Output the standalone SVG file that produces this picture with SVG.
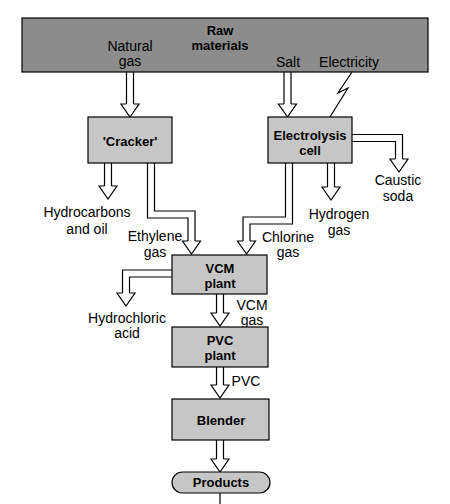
<svg xmlns="http://www.w3.org/2000/svg" xmlns:xlink="http://www.w3.org/1999/xlink" width="450" height="504" viewBox="0 0 450 504">
<style>
  .box { fill: #c6c6c6; stroke: #000; stroke-width: 1.2; }
  .raw { fill: #8c8c8c; stroke: #000; stroke-width: 1.2; }
  .t { font-family: "Liberation Sans", Arial, sans-serif; font-size: 14px; fill: #000; text-anchor: middle; }
  .b { font-family: "Liberation Sans", Arial, sans-serif; font-size: 13px; font-weight: bold; fill: #000; text-anchor: middle; }
  .so { fill: none; stroke: #000; stroke-width: 8.2; stroke-linejoin: miter; }
  .si { fill: none; stroke: #fff; stroke-width: 5.8; stroke-linejoin: miter; }
  .hd { fill: #fff; stroke: #000; stroke-width: 1.2; stroke-linejoin: miter; }
  .ln { fill: none; stroke: #000; stroke-width: 1.2; }
</style>
<defs>
  <path id="head" class="hd" d="M-3.5,0 L-9,0 L0,13 L9,0 L3.5,0"/>
</defs>
<rect width="450" height="504" fill="#fff"/>

<g id="connectors">
  <!-- shafts outer -->
  <path class="so" d="M130,72 V104.5"/>
  <path class="so" d="M287.5,72 V104.5"/>
  <path class="so" d="M108,163 V186.5"/>
  <path class="so" d="M151,163 V214.5 H191.5 V241.5"/>
  <path class="so" d="M289,163 V220.5 H246.5 V241.5"/>
  <path class="so" d="M331,163 V187.5"/>
  <path class="so" d="M352,138 H399 V159.5"/>
  <path class="so" d="M172,273.5 H126 V293.5"/>
  <path class="so" d="M220,294 V313.5"/>
  <path class="so" d="M220,367 V385.5"/>
  <path class="so" d="M220,440 V459.5"/>
  <!-- shafts inner -->
  <path class="si" d="M130,71 V104.5"/>
  <path class="si" d="M287.5,71 V104.5"/>
  <path class="si" d="M108,162 V186.5"/>
  <path class="si" d="M151,162 V214.5 H191.5 V241.5"/>
  <path class="si" d="M289,162 V220.5 H246.5 V241.5"/>
  <path class="si" d="M331,162 V187.5"/>
  <path class="si" d="M351,138 H399 V159.5"/>
  <path class="si" d="M173,273.5 H126 V293.5"/>
  <path class="si" d="M220,293 V313.5"/>
  <path class="si" d="M220,366 V385.5"/>
  <path class="si" d="M220,439 V459.5"/>
  <!-- heads -->
  <use xlink:href="#head" transform="translate(130,104)"/>
  <use xlink:href="#head" transform="translate(287.5,104)"/>
  <use xlink:href="#head" transform="translate(108,186)"/>
  <use xlink:href="#head" transform="translate(191.5,241)"/>
  <use xlink:href="#head" transform="translate(246.5,241)"/>
  <use xlink:href="#head" transform="translate(331,187)"/>
  <use xlink:href="#head" transform="translate(399,159)"/>
  <use xlink:href="#head" transform="translate(126,293)"/>
  <use xlink:href="#head" transform="translate(220,313)"/>
  <use xlink:href="#head" transform="translate(220,385)"/>
  <use xlink:href="#head" transform="translate(220,459)"/>
  <!-- electricity -->
  <polyline class="ln" points="352,72 338,93 348,88 330,117"/>
  <!-- products outlet -->
  <line class="ln" x1="220" y1="493" x2="220" y2="504"/>
  <!-- labels -->
  <text class="t" x="87" y="217">Hydrocarbons</text>
  <text class="t" x="87" y="234">and oil</text>
  <text class="t" x="155" y="241">Ethylene</text>
  <text class="t" x="155" y="257">gas</text>
  <text class="t" x="288" y="242">Chlorine</text>
  <text class="t" x="288" y="257">gas</text>
  <text class="t" x="339" y="219">Hydrogen</text>
  <text class="t" x="339" y="235">gas</text>
  <text class="t" x="398" y="185">Caustic</text>
  <text class="t" x="398" y="201">soda</text>
  <text class="t" x="127" y="323">Hydrochloric</text>
  <text class="t" x="127" y="338">acid</text>
  <text class="t" x="252" y="310">VCM</text>
  <text class="t" x="252" y="325">gas</text>
  <text class="t" x="246" y="386">PVC</text>
</g>

<g id="raw-materials">
  <rect class="raw" x="22" y="18" width="406" height="54"/>
  <text class="b" x="220" y="35">Raw</text>
  <text class="b" x="220" y="50">materials</text>
  <text class="t" x="130" y="51">Natural</text>
  <text class="t" x="130" y="66">gas</text>
  <text class="t" x="288" y="67">Salt</text>
  <text class="t" x="349" y="67">Electricity</text>
</g>

<g id="cracker">
  <rect class="box" x="88" y="117" width="84" height="46"/>
  <text class="b" x="130" y="146">'Cracker'</text>
</g>

<g id="electrolysis-cell">
  <rect class="box" x="268" y="117" width="84" height="46"/>
  <text class="b" x="310" y="139.5">Electrolysis</text>
  <text class="b" x="310" y="155">cell</text>
</g>

<g id="vcm-plant">
  <rect class="box" x="172" y="255" width="95" height="39"/>
  <text class="b" x="220" y="273">VCM</text>
  <text class="b" x="220" y="288">plant</text>
</g>

<g id="pvc-plant">
  <rect class="box" x="172" y="327" width="96" height="40"/>
  <text class="b" x="220" y="345">PVC</text>
  <text class="b" x="220" y="360">plant</text>
</g>

<g id="blender">
  <rect class="box" x="172" y="399" width="97" height="41"/>
  <text class="b" x="221" y="425">Blender</text>
</g>

<g id="products">
  <rect class="box" x="172" y="472" width="98" height="21" rx="10.5" ry="10.5"/>
  <text class="b" x="221" y="487">Products</text>
</g>
</svg>
